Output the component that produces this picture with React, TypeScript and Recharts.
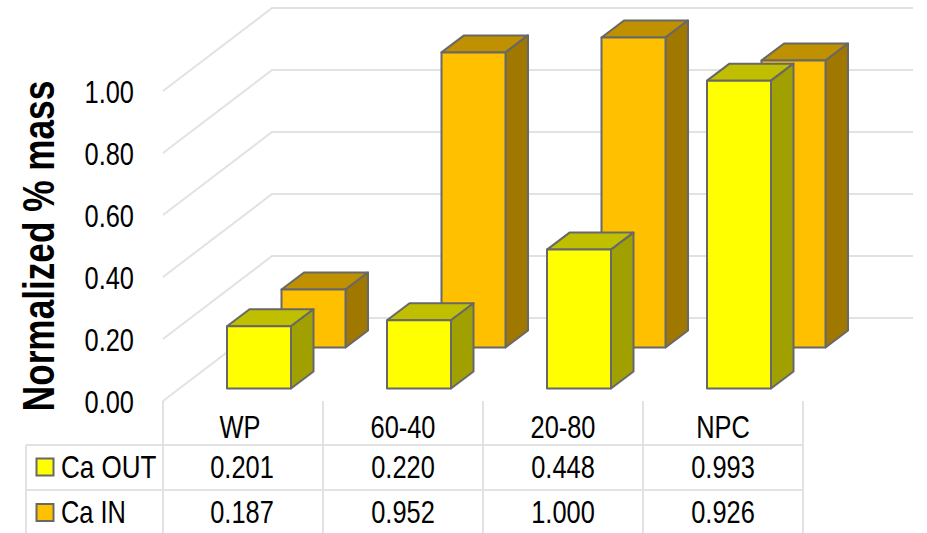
import { Bar, BarChart, CartesianGrid, XAxis, YAxis } from "recharts";

const CATEGORIES = ["WP", "60-40", "20-80", "NPC"];
const CA_OUT = [0.201, 0.22, 0.448, 0.993];
const CA_IN = [0.187, 0.952, 1.0, 0.926];
const Y_TICKS = [0, 0.2, 0.4, 0.6, 0.8, 1];

const rows = CATEGORIES.map((name, i) => ({
  name,
  out: CA_OUT[i],
  in: CA_IN[i],
}));

const FONT = "'Liberation Sans', Arial, sans-serif";
const GRID_COLOR = "#e2e2e2";
const EDGE_COLOR = "#686868";

const OUT_COLORS = { front: "#ffff00", top: "#bfbf00", side: "#a0a000" };
const IN_COLORS = { front: "#ffc000", top: "#bf9000", side: "#a07800" };

// depth of the fake 3d extrusion
const DX = 22.5;
const DY = 17;
// back wall offset from the front edge of the floor
const WALL_DX = 109;
const WALL_DY = 83;
const WALL_RIGHT = 913;

function Label({
  x,
  y,
  anchor = "middle",
  squeeze = 0.82,
  children,
}: {
  x: number;
  y: number;
  anchor?: "start" | "middle" | "end";
  squeeze?: number;
  children: React.ReactNode;
}) {
  return (
    <text
      transform={`translate(${x} ${y}) scale(${squeeze} 1)`}
      textAnchor={anchor}
      fontFamily={FONT}
      fontSize={31}
      fill="#000"
    >
      {children}
    </text>
  );
}

function box(colors: typeof OUT_COLORS, dx: number, dy: number) {
  return (props: any) => {
    const x = props.x + dx;
    const y = props.y + dy;
    const { width: w, height: h } = props;
    return (
      <g stroke={EDGE_COLOR} strokeWidth={2} strokeLinejoin="round">
        <path
          fill={colors.top}
          d={`M${x} ${y}L${x + DX} ${y - DY}L${x + w + DX} ${y - DY}L${x + w} ${y}Z`}
        />
        <path
          fill={colors.side}
          d={`M${x + w} ${y}L${x + w + DX} ${y - DY}L${x + w + DX} ${y + h - DY}L${x + w} ${y + h}Z`}
        />
        <rect x={x} y={y} width={w} height={h} fill={colors.front} />
      </g>
    );
  };
}

function WallLine(props: any) {
  const { x1, y1, key } = props;
  return (
    <polyline
      key={key}
      points={`${x1},${y1} ${x1 + WALL_DX},${y1 - WALL_DY} ${WALL_RIGHT},${y1 - WALL_DY}`}
      fill="none"
      stroke={GRID_COLOR}
      strokeWidth={2}
    />
  );
}

function YTick({ x, y, payload }: any) {
  return (
    <Label x={x - 21} y={y + 11.5} anchor="end">
      {payload.value.toFixed(2)}
    </Label>
  );
}

// one column of the data table under the plot
function TableColumn({ x, payload, index }: any) {
  const left = x - 80;
  const right = x + 80;
  return (
    <g>
      <line x1={left} x2={left} y1={401} y2={533} stroke={GRID_COLOR} strokeWidth={2} />
      <line x1={right} x2={right} y1={401} y2={533} stroke={GRID_COLOR} strokeWidth={2} />
      <Label x={index === 0 ? x - 3 : x} y={438}>
        {payload.value}
      </Label>
      <Label x={index === 0 ? x - 1 : x} y={478}>
        {CA_OUT[index].toFixed(3)}
      </Label>
      <Label x={index === 0 ? x - 1 : x} y={522.5}>
        {CA_IN[index].toFixed(3)}
      </Label>
    </g>
  );
}

export default function App() {
  return (
    <div style={{ position: "absolute", left: 0, top: 0, background: "#fff" }}>
      <BarChart
        width={927}
        height={533}
        data={rows}
        margin={{ top: 91, right: 124, bottom: 0, left: 0 }}
        barSize={64}
        barGap={-64}
      >
        <CartesianGrid vertical={false} horizontal={WallLine} />
        <XAxis
          dataKey="name"
          height={132}
          axisLine={false}
          tickLine={false}
          interval={0}
          tick={<TableColumn />}
        />
        <YAxis
          domain={[0, 1]}
          ticks={Y_TICKS}
          width={163}
          axisLine={false}
          tickLine={false}
          interval={0}
          tick={<YTick />}
        />
        <Bar
          dataKey="in"
          name="Ca IN"
          isAnimationActive={false}
          shape={box(IN_COLORS, 70.5, -53.5)}
        />
        <Bar
          dataKey="out"
          name="Ca OUT"
          isAnimationActive={false}
          shape={box(OUT_COLORS, 16, -12.5)}
        />
        <g stroke={GRID_COLOR} strokeWidth={2}>
          <line x1={26} x2={804} y1={445} y2={445} />
          <line x1={26} x2={804} y1={490} y2={490} />
          <line x1={26} x2={26} y1={445} y2={533} />
        </g>
        <rect x={36.5} y={458.5} width={17} height={17} fill={OUT_COLORS.front} stroke={EDGE_COLOR} strokeWidth={2} />
        <rect x={36.5} y={504} width={17} height={17} fill={IN_COLORS.front} stroke={EDGE_COLOR} strokeWidth={2} />
        <Label x={61} y={478} anchor="start" squeeze={0.84}>Ca OUT</Label>
        <Label x={61} y={522.5} anchor="start" squeeze={0.82}>Ca IN</Label>
        <text
          transform="translate(54 246) rotate(-90) scale(0.88 1.12)"
          textAnchor="middle"
          fontFamily={FONT}
          fontWeight="bold"
          fontSize={40}
          fill="#000"
        >
          Normalized % mass
        </text>
      </BarChart>
    </div>
  );
}
